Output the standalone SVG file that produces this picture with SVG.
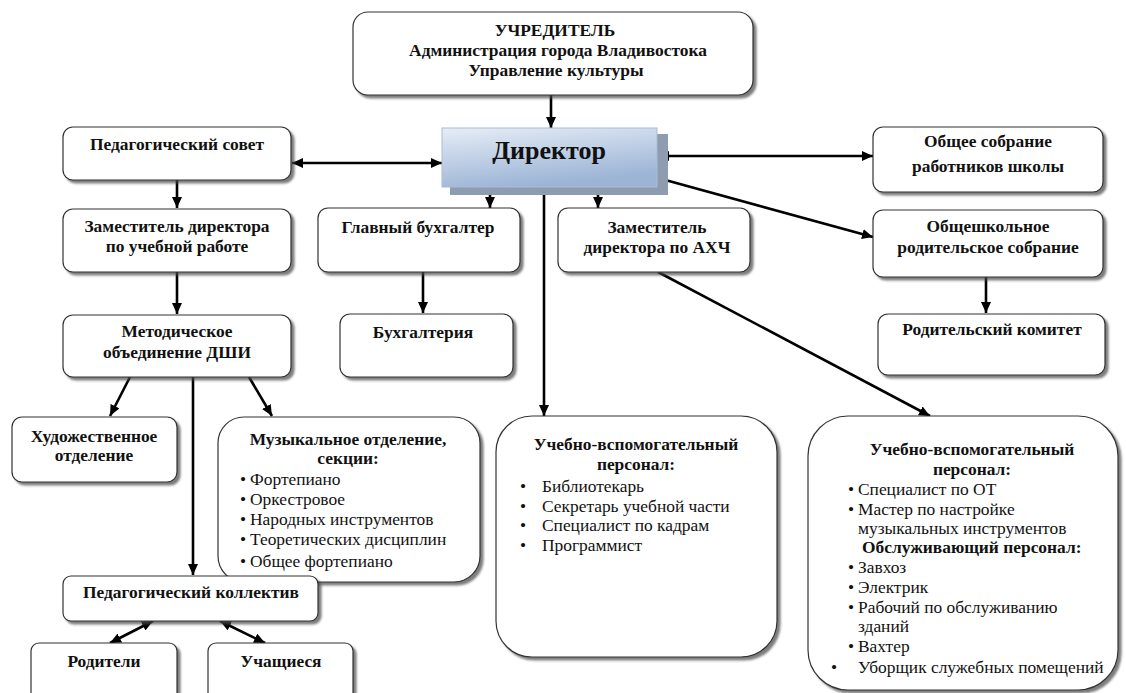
<svg xmlns="http://www.w3.org/2000/svg" width="1126" height="693" viewBox="0 0 1126 693">
<defs>
<style>
.box{fill:#fff;stroke:#333;stroke-width:1.2;filter:url(#sh)}
.t{font-family:"Liberation Serif","Times New Roman",serif;font-size:17.4px;font-weight:bold;fill:#111;text-anchor:middle}
.r{font-family:"Liberation Serif","Times New Roman",serif;font-size:17.4px;fill:#111}
.rb{font-family:"Liberation Serif","Times New Roman",serif;font-size:17.4px;font-weight:bold;fill:#111}
.c{stroke:#000;stroke-width:2.6;fill:none}
.a{marker-end:url(#ah)}
.b{marker-end:url(#ah);marker-start:url(#ah)}
</style>
<filter id="sh" x="-10%" y="-10%" width="130%" height="130%">
<feDropShadow dx="3" dy="3" stdDeviation="1.3" flood-color="#444" flood-opacity="0.7"/>
</filter>
<linearGradient id="dg" x1="0" y1="0" x2="0.35" y2="1">
<stop offset="0" stop-color="#e6edf6"/>
<stop offset="1" stop-color="#9cb4d6"/>
</linearGradient>
<marker id="ah" markerUnits="userSpaceOnUse" markerWidth="11" markerHeight="10" refX="11" refY="5" orient="auto-start-reverse">
<path d="M0,0 L11,5 L0,10 z" fill="#000"/>
</marker>
</defs>
<rect width="1126" height="693" fill="#fff"/>

<g id="connectors">
<line class="c a" x1="551" y1="95" x2="551" y2="128"/>
<line class="c b" x1="442" y1="163" x2="292" y2="163"/>
<line class="c b" x1="658" y1="156" x2="873" y2="156"/>
<line class="c a" x1="658" y1="178" x2="873" y2="237"/>
<line class="c a" x1="490" y1="187" x2="490" y2="208"/>
<line class="c a" x1="544" y1="187" x2="544" y2="416"/>
<line class="c a" x1="598" y1="187" x2="598" y2="208"/>
<line class="c a" x1="177" y1="180" x2="177" y2="208"/>
<line class="c a" x1="177" y1="272" x2="177" y2="314"/>
<line class="c a" x1="130" y1="377" x2="110" y2="416"/>
<line class="c a" x1="193" y1="377" x2="193" y2="575"/>
<line class="c a" x1="249" y1="377" x2="272" y2="416"/>
<line class="c a" x1="423" y1="272" x2="423" y2="313"/>
<line class="c a" x1="658" y1="272" x2="930" y2="416"/>
<line class="c a" x1="986" y1="277" x2="986" y2="313"/>
<line class="c b" x1="153" y1="621" x2="110" y2="643"/>
<line class="c b" x1="220" y1="621" x2="265" y2="643"/>
</g>

<g id="founder">
<rect class="box" x="353" y="12" width="400" height="83" rx="15"/>
<text class="t" x="555" y="36">УЧРЕДИТЕЛЬ</text>
<text class="t" x="558" y="56">Администрация города Владивостока</text>
<text class="t" x="556" y="76">Управление культуры</text>
</g>

<g id="director">
<rect x="450" y="134" width="218" height="61" fill="#8e9caf"/>
<rect x="442" y="128" width="215" height="59" fill="url(#dg)" stroke="#a9bcd6" stroke-width="1"/>
<text class="t" x="549" y="159" style="font-size:26px">Директор</text>
</g>

<g id="ped-sovet">
<rect class="box" x="63" y="127" width="228" height="53" rx="10"/>
<text class="t" x="177" y="150">Педагогический совет</text>
</g>

<g id="zam-ur">
<rect class="box" x="63" y="209" width="228" height="63" rx="10"/>
<text class="t" x="177" y="232">Заместитель директора</text>
<text class="t" x="177" y="252">по учебной работе</text>
</g>

<g id="metod">
<rect class="box" x="63" y="315" width="228" height="62" rx="10"/>
<text class="t" x="177" y="337">Методическое</text>
<text class="t" x="177" y="358">объединение ДШИ</text>
</g>

<g id="glavbuh">
<rect class="box" x="318" y="208" width="202" height="64" rx="10"/>
<text class="t" x="418" y="233">Главный бухгалтер</text>
</g>

<g id="buhgalteria">
<rect class="box" x="340" y="314" width="173" height="63" rx="10"/>
<text class="t" x="423" y="338">Бухгалтерия</text>
</g>

<g id="zam-ahch">
<rect class="box" x="558" y="208" width="192" height="64" rx="10"/>
<text class="t" x="657" y="233">Заместитель</text>
<text class="t" x="657" y="253">директора по АХЧ</text>
</g>

<g id="obshee-sobranie">
<rect class="box" x="873" y="127" width="230" height="65" rx="10"/>
<text class="t" x="988" y="147">Общее собрание</text>
<text class="t" x="988" y="172">работников школы</text>
</g>

<g id="roditelskoe-sobranie">
<rect class="box" x="873" y="210" width="230" height="67" rx="10"/>
<text class="t" x="988" y="232">Общешкольное</text>
<text class="t" x="988" y="253">родительское собрание</text>
</g>

<g id="rod-komitet">
<rect class="box" x="878" y="314" width="227" height="61" rx="10"/>
<text class="t" x="992" y="335">Родительский комитет</text>
</g>

<g id="hudozh">
<rect class="box" x="12" y="417" width="165" height="65" rx="10"/>
<text class="t" x="94" y="442">Художественное</text>
<text class="t" x="94" y="461">отделение</text>
</g>

<g id="muz">
<rect class="box" x="218" y="417" width="262" height="165" rx="26"/>
<text class="t" x="348" y="445">Музыкальное отделение,</text>
<text class="t" x="348" y="464">секции:</text>
<text class="r" x="240" y="485">•</text><text class="r" x="250" y="485">Фортепиано</text>
<text class="r" x="240" y="505">•</text><text class="r" x="250" y="505">Оркестровое</text>
<text class="r" x="240" y="525">•</text><text class="r" x="250" y="525">Народных инструментов</text>
<text class="r" x="240" y="545">•</text><text class="r" x="250" y="545">Теоретических дисциплин</text>
<text class="r" x="240" y="567">•</text><text class="r" x="250" y="567">Общее фортепиано</text>
</g>

<g id="ped-kollektiv">
<rect class="box" x="63" y="576" width="255" height="45" rx="8"/>
<text class="t" x="191" y="598">Педагогический коллектив</text>
</g>

<g id="roditeli">
<rect class="box" x="31" y="643" width="146" height="60" rx="8"/>
<text class="t" x="104" y="667">Родители</text>
</g>

<g id="uchashiesya">
<rect class="box" x="208" y="643" width="145" height="60" rx="8"/>
<text class="t" x="281" y="667">Учащиеся</text>
</g>

<g id="uvp-left">
<rect class="box" x="496" y="416" width="281" height="241" rx="36"/>
<text class="t" x="636" y="450">Учебно-вспомогательный</text>
<text class="t" x="636" y="470">персонал:</text>
<text class="r" x="520" y="492">•</text><text class="r" x="542" y="492">Библиотекарь</text>
<text class="r" x="520" y="512">•</text><text class="r" x="542" y="512">Секретарь учебной части</text>
<text class="r" x="520" y="531">•</text><text class="r" x="542" y="531">Специалист по кадрам</text>
<text class="r" x="520" y="551">•</text><text class="r" x="542" y="551">Программист</text>
</g>

<g id="uvp-right">
<rect class="box" x="808" y="416" width="310" height="274" rx="40"/>
<text class="t" x="972" y="455">Учебно-вспомогательный</text>
<text class="t" x="972" y="475">персонал:</text>
<text class="r" x="848" y="495">•</text><text class="r" x="858" y="495">Специалист по ОТ</text>
<text class="r" x="848" y="515">•</text><text class="r" x="858" y="515">Мастер по настройке</text>
<text class="r" x="858" y="534">музыкальных инструментов</text>
<text class="rb" x="862" y="553">Обслуживающий персонал:</text>
<text class="r" x="848" y="573">•</text><text class="r" x="858" y="573">Завхоз</text>
<text class="r" x="848" y="593">•</text><text class="r" x="858" y="593">Электрик</text>
<text class="r" x="848" y="613">•</text><text class="r" x="858" y="613">Рабочий по обслуживанию</text>
<text class="r" x="858" y="632">зданий</text>
<text class="r" x="848" y="652">•</text><text class="r" x="858" y="652">Вахтер</text>
<text class="r" x="831" y="673">•</text><text class="r" x="858" y="673">Уборщик служебных помещений</text>
</g>
</svg>
